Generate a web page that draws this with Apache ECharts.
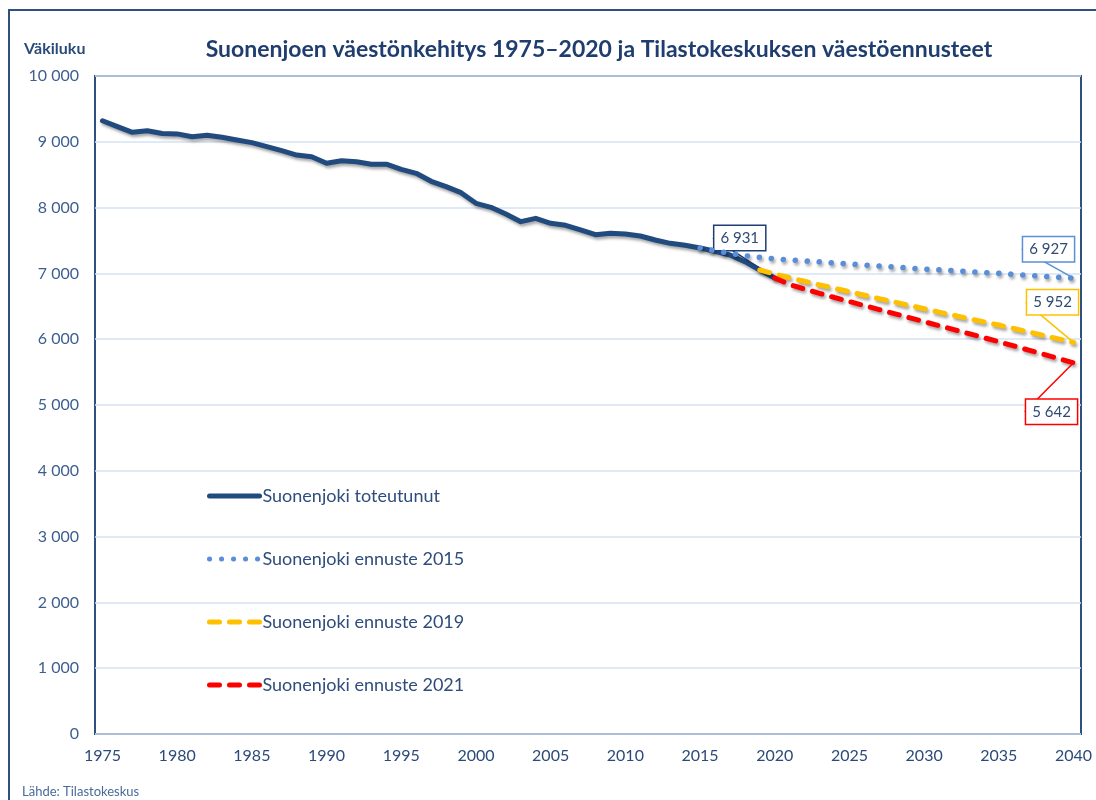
<!DOCTYPE html>
<html>
<head>
<meta charset="utf-8">
<script src="https://cdn.jsdelivr.net/npm/echarts@6/dist/echarts.min.js"></script>
<style>
  html, body { margin: 0; padding: 0; background: #fff; }
  #vaesto { width: 1096px; height: 800px; }
</style>
</head>
<body>
<div id="vaesto"></div>
<script>
var font = 'Lato, "Noto Sans", sans-serif';

var years = [1975, 1976, 1977, 1978, 1979, 1980, 1981, 1982, 1983, 1984,
    1985, 1986, 1987, 1988, 1989, 1990, 1991, 1992, 1993, 1994,
    1995, 1996, 1997, 1998, 1999, 2000, 2001, 2002, 2003, 2004,
    2005, 2006, 2007, 2008, 2009, 2010, 2011, 2012, 2013, 2014,
    2015, 2016, 2017, 2018, 2019, 2020, 2021, 2022, 2023, 2024,
    2025, 2026, 2027, 2028, 2029, 2030, 2031, 2032, 2033, 2034,
    2035, 2036, 2037, 2038, 2039, 2040];

// toteutunut 1975-2020
var toteutunut = [9320, 9230, 9144, 9169, 9125, 9120, 9078, 9098, 9068, 9027,
    8987, 8926, 8865, 8799, 8774, 8673, 8713, 8698, 8660, 8660,
    8582, 8521, 8400, 8318, 8227, 8065, 8004, 7903, 7786, 7837,
    7761, 7731, 7660, 7588, 7609, 7599, 7568, 7508, 7457, 7427,
    7386, 7336, 7280, 7178, 7052, 6931];

// ennuste 2015, vuodet 2015-2040
var ennuste2015 = [7386, 7345, 7305, 7270, 7245, 7222, 7206, 7190, 7175, 7159,
    7143, 7128, 7113, 7097, 7082, 7067, 7054, 7041, 7028, 7014,
    7001, 6986, 6971, 6956, 6942, 6927];

// ennuste 2019, vuodet 2019-2040
var ennuste2019 = [7052, 6990, 6935, 6880, 6826, 6773, 6720, 6668, 6616, 6565,
    6514, 6463, 6412, 6362, 6313, 6264, 6215, 6163, 6110, 6057,
    6004, 5952];

// ennuste 2021, vuodet 2020-2040
var ennuste2021 = [6931, 6830, 6762, 6697, 6634, 6572, 6511, 6450, 6389, 6328,
    6267, 6206, 6145, 6084, 6023, 5962, 5898, 5834, 5770, 5706,
    5642];

var yTicks = [0, 1000, 2000, 3000, 4000, 5000, 6000, 7000, 8000, 9000, 10000];

function thousands(v) {
    return String(v).replace(/\B(?=(\d{3})+(?!\d))/g, ' ');
}

// pad a series to the year axis and put a callout on its last value
function build(values, startYear, color) {
    var out = years.map(function (y) {
        var i = y - startYear;
        return (i >= 0 && i < values.length) ? values[i] : null;
    });
    var last = startYear + values.length - 1 - years[0];
    out[last] = {
        value: out[last],
        label: {
            show: true,
            position: 'inside',
            formatter: function (p) { return thousands(p.value); },
            backgroundColor: '#fff',
            borderColor: color,
            borderWidth: 1.5,
            padding: [5, 6, 4, 6],
            fontFamily: font,
            fontSize: 15,
            color: '#2f4a73'
        },
        labelLine: { show: true, lineStyle: { color: color, width: 1.5 } }
    };
    return out;
}

var shadow = {
    shadowColor: 'rgba(0,0,0,0.35)',
    shadowBlur: 3,
    shadowOffsetX: 1.5,
    shadowOffsetY: 2.5
};

var myChart = echarts.init(document.getElementById('vaesto'));
myChart.setOption({
    backgroundColor: '#fff',
    animation: false,
    graphic: [{
        type: 'rect',
        shape: { x: 9, y: 10, width: 1200, height: 900 },
        style: { fill: 'none', stroke: '#2f5080', lineWidth: 2 },
        silent: true
    }],
    title: [{
        text: 'Suonenjoen väestönkehitys 1975–2020 ja Tilastokeskuksen väestöennusteet',
        left: 594,
        textAlign: 'center',
        top: 33,
        textStyle: { fontFamily: font, fontSize: 23, fontWeight: 'bold', color: '#1f3d6e' }
    }, {
        text: 'Väkiluku',
        left: 19,
        top: 36,
        textStyle: { fontFamily: font, fontSize: 16, fontWeight: 'bold', color: '#2a4a7a' }
    }, {
        text: 'Lähde: Tilastokeskus',
        left: 17,
        top: 780,
        textStyle: { fontFamily: font, fontSize: 13, fontWeight: 'normal', color: '#4a6a9a' }
    }],
    grid: {
        left: 95,
        right: 15,
        top: 76,
        bottom: 66,
        show: true,
        borderColor: '#2f5180',
        borderWidth: 2,
        backgroundColor: 'transparent'
    },
    legend: {
        orient: 'vertical',
        left: 207,
        top: 487,
        padding: 0,
        itemWidth: 50,
        itemHeight: 14,
        itemGap: 45,
        itemStyle: { opacity: 0 },
        lineStyle: { width: 5, cap: 'round', shadowBlur: 0, shadowOffsetX: 0, shadowOffsetY: 0 },
        textStyle: { fontFamily: font, fontSize: 18, color: '#2e4d7c', padding: [0, 0, 0, -2] },
        data: ['Suonenjoki toteutunut', 'Suonenjoki ennuste 2015',
            'Suonenjoki ennuste 2019', 'Suonenjoki ennuste 2021']
    },
    xAxis: {
        type: 'category',
        boundaryGap: true,
        data: years,
        axisLine: { show: false },
        axisTick: { show: false },
        axisLabel: {
            interval: 4,
            margin: 14,
            fontFamily: font,
            fontSize: 16,
            color: '#2b4a7a'
        }
    },
    yAxis: {
        type: 'value',
        min: yTicks[0],
        max: yTicks[yTicks.length - 1],
        interval: 1000,
        axisLine: { show: false },
        axisTick: { show: false },
        axisLabel: {
            margin: 16,
            fontFamily: font,
            fontSize: 16,
            color: '#3d5f8f',
            formatter: thousands
        },
        splitLine: { lineStyle: { color: '#d6e3f3', width: 1.5 } }
    },
    series: [
        {
            name: 'Suonenjoki toteutunut',
            type: 'line',
            data: build(toteutunut, 1975, '#1f3f73'),
            symbol: 'circle',
            symbolSize: 0,
            showSymbol: true,
            connectNulls: false,
            lineStyle: Object.assign({ color: '#214a7e', width: 5, cap: 'round', join: 'round' }, shadow),
            itemStyle: { color: '#214a7e' },
            labelLayout: { dx: -35, dy: -40 },
            z: 2
        },
        {
            name: 'Suonenjoki ennuste 2015',
            type: 'line',
            data: build(ennuste2015, 2015, '#5b8fd6'),
            symbol: 'circle',
            symbolSize: 0,
            showSymbol: true,
            lineStyle: Object.assign({ color: '#5a8ed8', width: 5.5, type: [0.1, 11.9], cap: 'round' }, shadow),
            itemStyle: { color: '#5a8ed8' },
            labelLayout: { dx: -25, dy: -29 },
            z: 3
        },
        {
            name: 'Suonenjoki ennuste 2019',
            type: 'line',
            data: build(ennuste2019, 2019, '#ffc000'),
            symbol: 'circle',
            symbolSize: 0,
            showSymbol: true,
            lineStyle: Object.assign({ color: '#ffc000', width: 5, type: [10, 10], cap: 'round' }, shadow),
            itemStyle: { color: '#ffc000' },
            labelLayout: { dx: -21, dy: -40 },
            z: 3
        },
        {
            name: 'Suonenjoki ennuste 2021',
            type: 'line',
            data: build(ennuste2021, 2020, '#ff0000'),
            symbol: 'circle',
            symbolSize: 0,
            showSymbol: true,
            lineStyle: Object.assign({ color: '#ff0000', width: 5, type: [10, 10], cap: 'round' }, shadow),
            itemStyle: { color: '#ff0000' },
            labelLayout: { dx: -22, dy: 49 },
            z: 3
        }
    ]
});
</script>
</body>
</html>
